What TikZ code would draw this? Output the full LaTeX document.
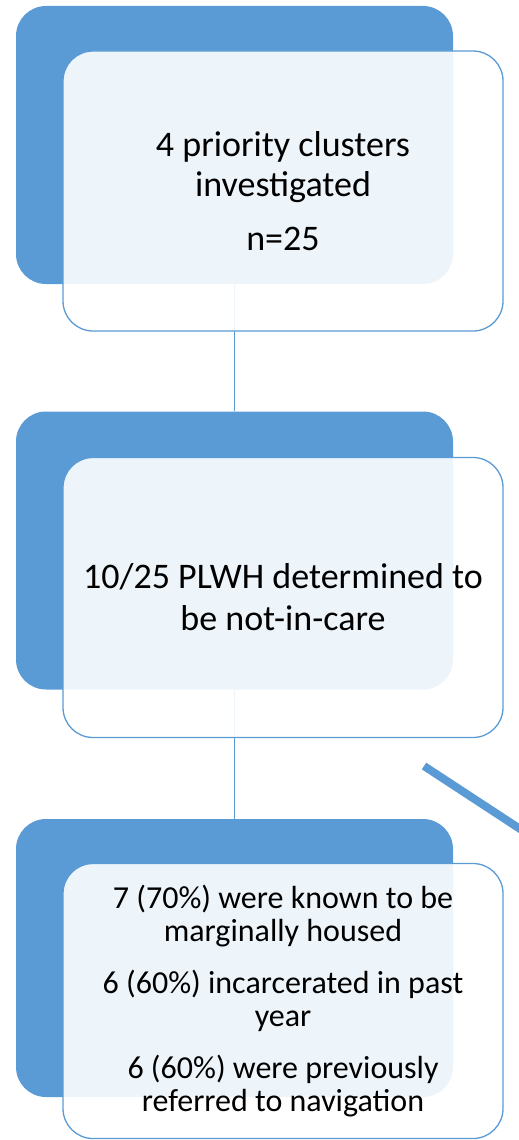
\documentclass[tikz,border=0pt]{standalone}
\usepackage{fontspec}
\setmainfont{Carlito}
\definecolor{boxblue}{RGB}{91,155,213}
\tikzset{every picture/.style={line width=0.75pt}}
\tikzset{
  backbox/.style={rectangle, rounded corners=30pt, fill=boxblue, draw=none,
    minimum width=437pt, minimum height=278pt, inner sep=0pt},
  frontbox/.style={rectangle, rounded corners=30pt, draw=boxblue, line width=1.3pt,
    fill=white, fill opacity=0.9, text opacity=1, text=black, align=center,
    minimum width=440pt, minimum height=280pt, inner sep=0pt},
  conn/.style={draw=boxblue, line width=1.3pt},
  diagline/.style={draw=boxblue, line width=8pt}
}

\begin{document}
\begin{tikzpicture}[x=1pt,y=1pt,yscale=-1,xscale=1]
    \useasboundingbox (0,0) rectangle (519,1140);

    %Rounded Rect [back boxes]
    \node [backbox] (back1) at (234.5,145) {};
    \node [backbox] (back2) at (234.5,550.5) {};
    \node [backbox] (back3) at (234.5,958) {};

    %Straight Lines [links between steps]
    \draw [conn] (back1.south) -- (back2.north);
    \draw [conn] (back2.south) -- (back3.north);

    %Straight Lines [cut-off branch]
    \coordinate (branchA) at (424,766);
    \coordinate (branchB) at (540,842);
    \draw [diagline] (branchA) -- (branchB);

    % Text Node
    \node [frontbox, font=\fontsize{36}{40}\selectfont] (front1) at (283,191) {4 priority clusters\\investigated\\[14pt]n=25};
    % Text Node
    \node [frontbox, font=\fontsize{36}{42}\selectfont] (front2) at (283,597.5) {10/25 PLWH determined to\\be not-in-care};
    % Text Node
    \node [frontbox, minimum height=275pt, font=\fontsize{32}{33}\selectfont] (front3) at (283,1001) {7 (70\%) were known to be\\marginally housed\\[19pt]6 (60\%) incarcerated in past\\year\\[19pt]6 (60\%) were previously\\referred to navigation};

\end{tikzpicture}
\end{document}
